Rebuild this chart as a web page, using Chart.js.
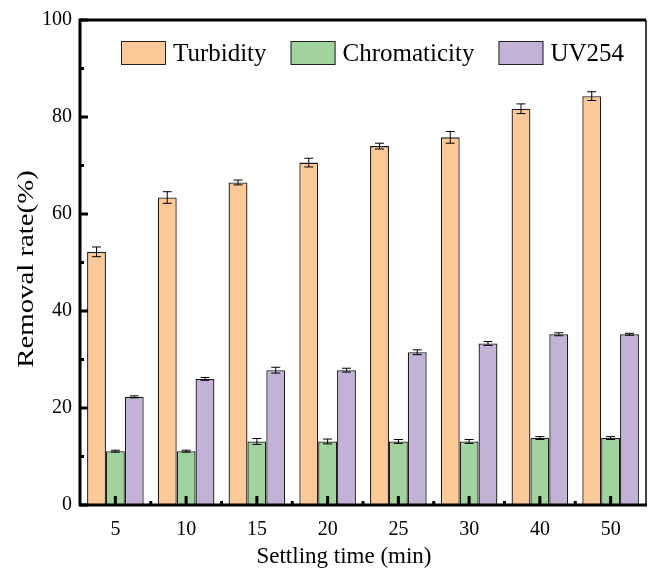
<!DOCTYPE html>
<html>
<head>
<meta charset="utf-8">
<script src="https://cdn.jsdelivr.net/npm/chart.js@4.4.0/dist/chart.umd.min.js"></script>
<style>
html, body { margin: 0; padding: 0; background: #fff; }
</style>
</head>
<body>
<canvas id="dataChart" width="650" height="574"></canvas>
<script>
const settlingTimes = ['5', '10', '15', '20', '25', '30', '40', '50'];
const turbidity = [52.2, 63.4, 66.5, 70.6, 74.0, 75.8, 81.7, 84.3];
const turbidityErr = [1.0, 1.2, 0.5, 0.9, 0.6, 1.2, 1.0, 0.9];
const chromaticity = [11.1, 11.1, 13.1, 13.1, 13.1, 13.1, 13.8, 13.8];
const chromaticityErr = [0.2, 0.2, 0.6, 0.5, 0.4, 0.4, 0.3, 0.3];
const uv254 = [22.3, 26.0, 27.8, 27.8, 31.5, 33.3, 35.2, 35.2];
const uv254Err = [0.2, 0.3, 0.6, 0.4, 0.5, 0.4, 0.3, 0.2];
const yTicks = [0, 20, 40, 60, 80, 100];

const FONT = "'Liberation Serif', 'DejaVu Serif', serif";

// error bars, axes frame with inside ticks, titles and the legend
const framePlugin = {
    id: 'frame',
    afterDatasetsDraw(chart) {
        const ctx = chart.ctx;
        const y = chart.scales.y;
        ctx.save();
        ctx.strokeStyle = '#000';
        ctx.lineWidth = 1;
        chart.data.datasets.forEach((ds, di) => {
            const meta = chart.getDatasetMeta(di);
            meta.data.forEach((bar, i) => {
                const v = ds.data[i], e = ds.errors[i];
                const yTop = y.getPixelForValue(v + e);
                const yBot = y.getPixelForValue(v - e);
                const cap = 4.5;
                ctx.beginPath();
                ctx.moveTo(bar.x, yTop); ctx.lineTo(bar.x, yBot);
                ctx.moveTo(bar.x - cap, yTop); ctx.lineTo(bar.x + cap, yTop);
                ctx.moveTo(bar.x - cap, yBot); ctx.lineTo(bar.x + cap, yBot);
                ctx.stroke();
            });
        });
        ctx.restore();
    },
    afterDraw(chart) {
        const ctx = chart.ctx;
        const a = chart.chartArea;
        const x = chart.scales.x;
        const y = chart.scales.y;
        ctx.save();
        ctx.lineCap = 'butt';

        // right border
        ctx.lineWidth = 2;
        ctx.strokeStyle = '#444';
        ctx.beginPath();
        ctx.moveTo(a.right, a.top); ctx.lineTo(a.right, a.bottom);
        ctx.stroke();

        ctx.strokeStyle = '#000';
        ctx.lineWidth = 3;
        ctx.beginPath();
        ctx.moveTo(a.left, a.top); ctx.lineTo(a.right, a.top);
        ctx.moveTo(a.left, a.top - 1.5); ctx.lineTo(a.left, a.bottom + 1.5);
        ctx.moveTo(a.left - 1.5, a.bottom); ctx.lineTo(a.right + 1, a.bottom);
        ctx.stroke();

        // y ticks (inside)
        ctx.beginPath();
        for (let v = 0; v <= 100; v += 10) {
            const py = y.getPixelForValue(v);
            const len = v % 20 === 0 ? 8 : 4;
            ctx.moveTo(a.left, py); ctx.lineTo(a.left + len, py);
        }
        // x ticks (inside)
        const n = settlingTimes.length;
        const step = (a.right - a.left) / n;
        for (let i = 0; i < n; i++) {
            const px = x.getPixelForTick(i);
            ctx.moveTo(px, a.bottom); ctx.lineTo(px, a.bottom - 9);
            if (i < n - 1) {
                const bx = a.left + (i + 1) * step;
                ctx.moveTo(bx, a.bottom); ctx.lineTo(bx, a.bottom - 4);
            }
        }
        ctx.stroke();

        // axis titles
        ctx.fillStyle = '#000';
        ctx.textAlign = 'center';
        ctx.textBaseline = 'middle';
        ctx.font = '23px ' + FONT;
        ctx.fillText('Settling time (min)', 344, 557);

        ctx.save();
        ctx.translate(27, 269);
        ctx.rotate(-Math.PI / 2);
        ctx.scale(1.2, 1);
        ctx.font = '24px ' + FONT;
        ctx.fillText('Removal rate(%)', 0, 0);
        ctx.restore();

        // legend
        ctx.font = '25px ' + FONT;
        ctx.textAlign = 'left';
        ctx.textBaseline = 'middle';
        let lx = 121;
        const ly = 41, bw = 45, bh = 24;
        chart.data.datasets.forEach(ds => {
            ctx.fillStyle = ds.backgroundColor;
            ctx.fillRect(lx, ly, bw, bh);
            ctx.lineWidth = 1;
            ctx.strokeStyle = '#222';
            ctx.strokeRect(lx + 0.5, ly + 0.5, bw - 1, bh - 1);
            ctx.fillStyle = '#000';
            ctx.fillText(ds.label, lx + bw + 7, ly + bh / 2 + 1);
            lx += bw + 7 + ctx.measureText(ds.label).width + 24;
        });
        ctx.restore();
    }
};

const barStyle = { borderColor: '#1a1a1a', borderWidth: 1.3, borderSkipped: false };

new Chart(document.getElementById('dataChart'), {
    type: 'bar',
    data: {
        labels: settlingTimes,
        datasets: [
            { label: 'Turbidity', data: turbidity, errors: turbidityErr, backgroundColor: '#fdc998', ...barStyle },
            { label: 'Chromaticity', data: chromaticity, errors: chromaticityErr, backgroundColor: '#a1d39f', ...barStyle },
            { label: 'UV254', data: uv254, errors: uv254Err, backgroundColor: '#c2b2d6', ...barStyle }
        ]
    },
    options: {
        responsive: false,
        animation: false,
        layout: { padding: { top: 16, right: 4, left: 0, bottom: 0 } },
        datasets: { bar: { categoryPercentage: 0.8, barPercentage: 1.0 } },
        plugins: { legend: { display: false }, tooltip: { enabled: false } },
        scales: {
            x: {
                grid: { display: false, drawTicks: false },
                border: { display: false },
                ticks: { color: '#000', font: { family: FONT, size: 20 }, padding: 13 },
                afterFit(scale) { scale.height = 69; }
            },
            y: {
                min: 0, max: 100,
                afterBuildTicks(scale) { scale.ticks = yTicks.map(v => ({ value: v })); },
                grid: { display: false, drawTicks: false },
                border: { display: false },
                ticks: { color: '#000', font: { family: FONT, size: 20 }, padding: 8 },
                afterFit(scale) { scale.width = 80; }
            }
        }
    },
    plugins: [framePlugin]
});
</script>
</body>
</html>
